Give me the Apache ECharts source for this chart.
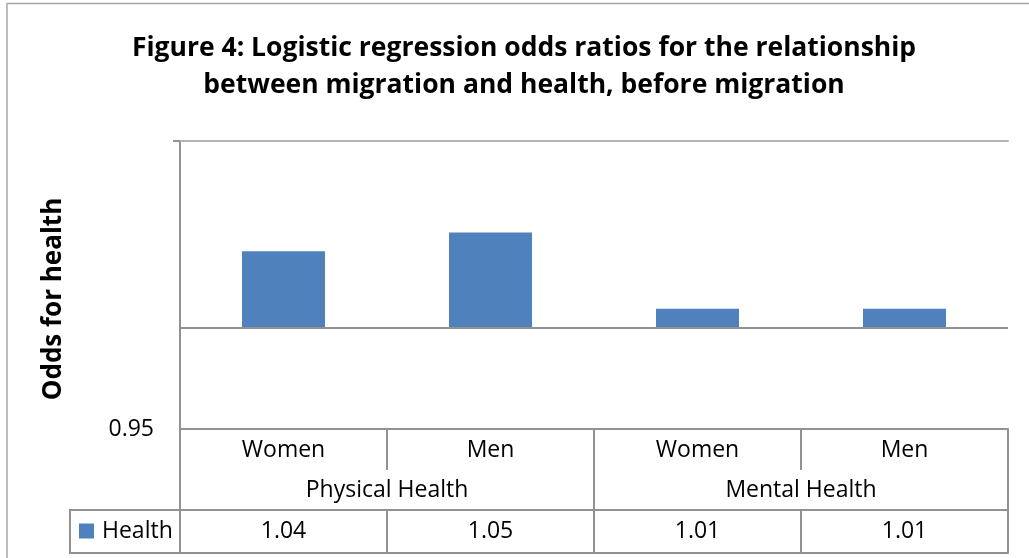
<!DOCTYPE html>
<html>
<head>
<meta charset="utf-8">
<script src="https://cdn.jsdelivr.net/npm/echarts@6/dist/echarts.min.js"></script>
<style>
html,body{margin:0;padding:0;background:#ffffff;}
#chart{width:1029px;height:558px;}
</style>
</head>
<body>
<div id="chart"></div>
<script>
// ---- data ----
const titleText = 'Figure 4: Logistic regression odds ratios for the relationship\nbetween migration and health, before migration';
const yAxisTitle = 'Odds for health';
const subCategories = ['Women', 'Men', 'Women', 'Men'];
const groupCategories = ['Physical Health', 'Mental Health'];
const seriesName = 'Health';
const oddsRatios = [1.04, 1.05, 1.01, 1.01];
const yTickLabels = ['0.95'];
const yMin = 0.95;
const yMax = 1.1;
const baseline = 1;

// ---- derived ----
const tableLabels = oddsRatios.map(v => v.toFixed(2));

const FONT = "'Open Sans', 'Liberation Sans', sans-serif";
const lineGray = '#929292';
const lightGray = '#b4b4b4';
const textStyleBase = { fontFamily: FONT, fontSize: 23, color: '#000000' };

const chart = echarts.init(document.getElementById('chart'), null, { renderer: 'canvas' });

const option = {
  animation: false,
  backgroundColor: '#ffffff',
  grid: { left: 180, right: 21, top: 141, bottom: 129, outerBoundsMode: 'none', containLabel: false },
  legend: {
    data: [seriesName],
    left: 79, top: 519.5, padding: 0,
    icon: 'rect', itemWidth: 15, itemHeight: 15,
    selectedMode: false,
    textStyle: Object.assign({}, textStyleBase, { padding: [0, 0, 0, 3] })
  },
  xAxis: [
    {
      type: 'category', data: subCategories, position: 'bottom',
      axisLine: { show: true, onZero: false, lineStyle: { color: lineGray, width: 2 } },
      axisTick: { show: true, interval: 0, length: 41, lineStyle: { color: lineGray, width: 2 } },
      axisLabel: Object.assign({ interval: 0, margin: 10 }, textStyleBase),
      splitLine: { show: false }
    },
    {
      type: 'category', data: groupCategories, position: 'bottom',
      axisLine: { show: false, onZero: false },
      axisTick: { show: true, interval: 0, length: 124, lineStyle: { color: lineGray, width: 2 } },
      axisLabel: Object.assign({ interval: 0, margin: 50 }, textStyleBase),
      splitLine: { show: false }
    },
    {
      type: 'category', data: tableLabels, position: 'bottom', offset: 81,
      axisLine: { show: true, onZero: false, lineStyle: { color: lineGray, width: 2 } },
      axisTick: { show: true, interval: 0, length: 43, lineStyle: { color: lineGray, width: 2 } },
      axisLabel: Object.assign({ interval: 0, margin: 10 }, textStyleBase),
      splitLine: { show: false }
    },
    {
      type: 'category', data: subCategories, position: 'bottom', offset: 124,
      axisLine: { show: true, onZero: false, lineStyle: { color: lineGray, width: 2 } },
      axisTick: { show: false }, axisLabel: { show: false }, splitLine: { show: false }
    },
    {
      type: 'category', data: subCategories, position: 'top',
      axisLine: { show: true, onZero: false, lineStyle: { color: lightGray, width: 2 } },
      axisTick: { show: false }, axisLabel: { show: false }, splitLine: { show: false }
    }
  ],
  yAxis: {
    type: 'log', logBase: 10, min: yMin, max: yMax,
    axisLine: { show: true, lineStyle: { color: lineGray, width: 2 } },
    axisTick: { show: true, length: 7, customValues: [yMax], lineStyle: { color: lineGray, width: 2 } },
    axisLabel: Object.assign({
      margin: 26,
      customValues: yTickLabels.map(Number),
      formatter: v => (yTickLabels.indexOf(Number(v).toFixed(2)) >= 0 ? Number(v).toFixed(2) : '')
    }, textStyleBase),
    splitLine: { show: false },
    minorTick: { show: false }
  },
  series: [{
    name: seriesName,
    type: 'bar',
    xAxisIndex: 0, yAxisIndex: 0,
    data: oddsRatios,
    barWidth: 83,
    itemStyle: { color: '#4f81bd' },
    markLine: {
      silent: true, symbol: 'none', label: { show: false },
      lineStyle: { color: lineGray, width: 2, type: 'solid' },
      data: [{ yAxis: baseline }]
    }
  }],
  graphic: [
    {
      type: 'rect', silent: true, z: 0,
      shape: { x: 7, y: 3.5, width: 1100, height: 700 },
      style: { fill: 'none', stroke: '#a8a8a8', lineWidth: 1.5 }
    },
    {
      type: 'rect', silent: true, z: 10,
      shape: { x: 70, y: 510, width: 110, height: 43 },
      style: { fill: 'none', stroke: lineGray, lineWidth: 2 }
    },
    {
      type: 'text', silent: true, z: 10,
      x: 524, y: 30,
      style: {
        text: titleText, fontFamily: FONT, fontSize: 26.5, fontWeight: 'bold',
        fill: '#000000', align: 'center', verticalAlign: 'top', lineHeight: 37
      }
    },
    {
      type: 'text', silent: true, z: 10,
      x: 54, y: 299, rotation: Math.PI / 2,
      style: {
        text: yAxisTitle, fontFamily: FONT, fontSize: 26, fontWeight: 'bold',
        fill: '#000000', align: 'center', verticalAlign: 'middle'
      }
    }
  ]
};

chart.setOption(option);
</script>
</body>
</html>
